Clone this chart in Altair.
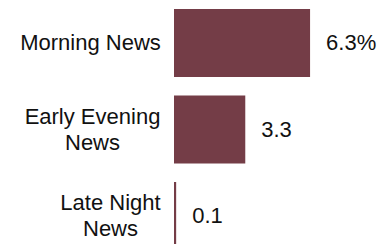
import altair as alt
import pandas as pd

categories = ["Morning News", "Early Evening News", "Late Night News"]
values = [6.3, 3.3, 0.1]
value_labels = ["6.3%", "3.3", "0.1"]

df = pd.DataFrame({"cat": categories, "val": values, "lab": value_labels})

FONT = "Liberation Sans"
COLOR = "#743D47"

label_expr = (
    "datum.value == 'Early Evening News' ? ['Early Evening', 'News'] : "
    "datum.value == 'Late Night News' ? ['Late Night', 'News'] : datum.value"
)

pad_expr = {
    "condition": [
        {"test": "datum.value == 'Morning News'", "value": 84},
        {"test": "datum.value == 'Early Evening News'", "value": 82},
    ],
    "value": 64,
}

y = alt.Y(
    "cat:N",
    sort=categories,
    scale=alt.Scale(paddingInner=0.214, paddingOuter=0),
    axis=alt.Axis(
        title=None,
        domain=False,
        ticks=False,
        labelPadding=pad_expr,
        labelAlign="center",
        labelFont=FONT,
        labelFontSize=22,
        labelColor="#111111",
        labelLineHeight=26,
        labelExpr=label_expr,
        labelLimit=300,
        labelOffset=alt.condition("datum.value != 'Morning News'", alt.value(-13), alt.value(0)),
    ),
)
x = alt.X("val:Q", scale=alt.Scale(domain=[0, 9.26], nice=False), axis=None)

bars = alt.Chart(df).mark_bar(color=COLOR).encode(x=x, y=y)
texts = alt.Chart(df).mark_text(
    align="left", baseline="middle", dx=16, font=FONT, fontSize=22, color="#111111"
).encode(x=x, y=y, text="lab:N")

chart = (
    alt.layer(bars, texts)
    .properties(width=200, height=241, padding={"left": 11, "top": 0, "right": 0, "bottom": 0})
    .configure_view(stroke=None)
)

chart.save("out.html", embed_options={"renderer": "svg", "actions": False})
